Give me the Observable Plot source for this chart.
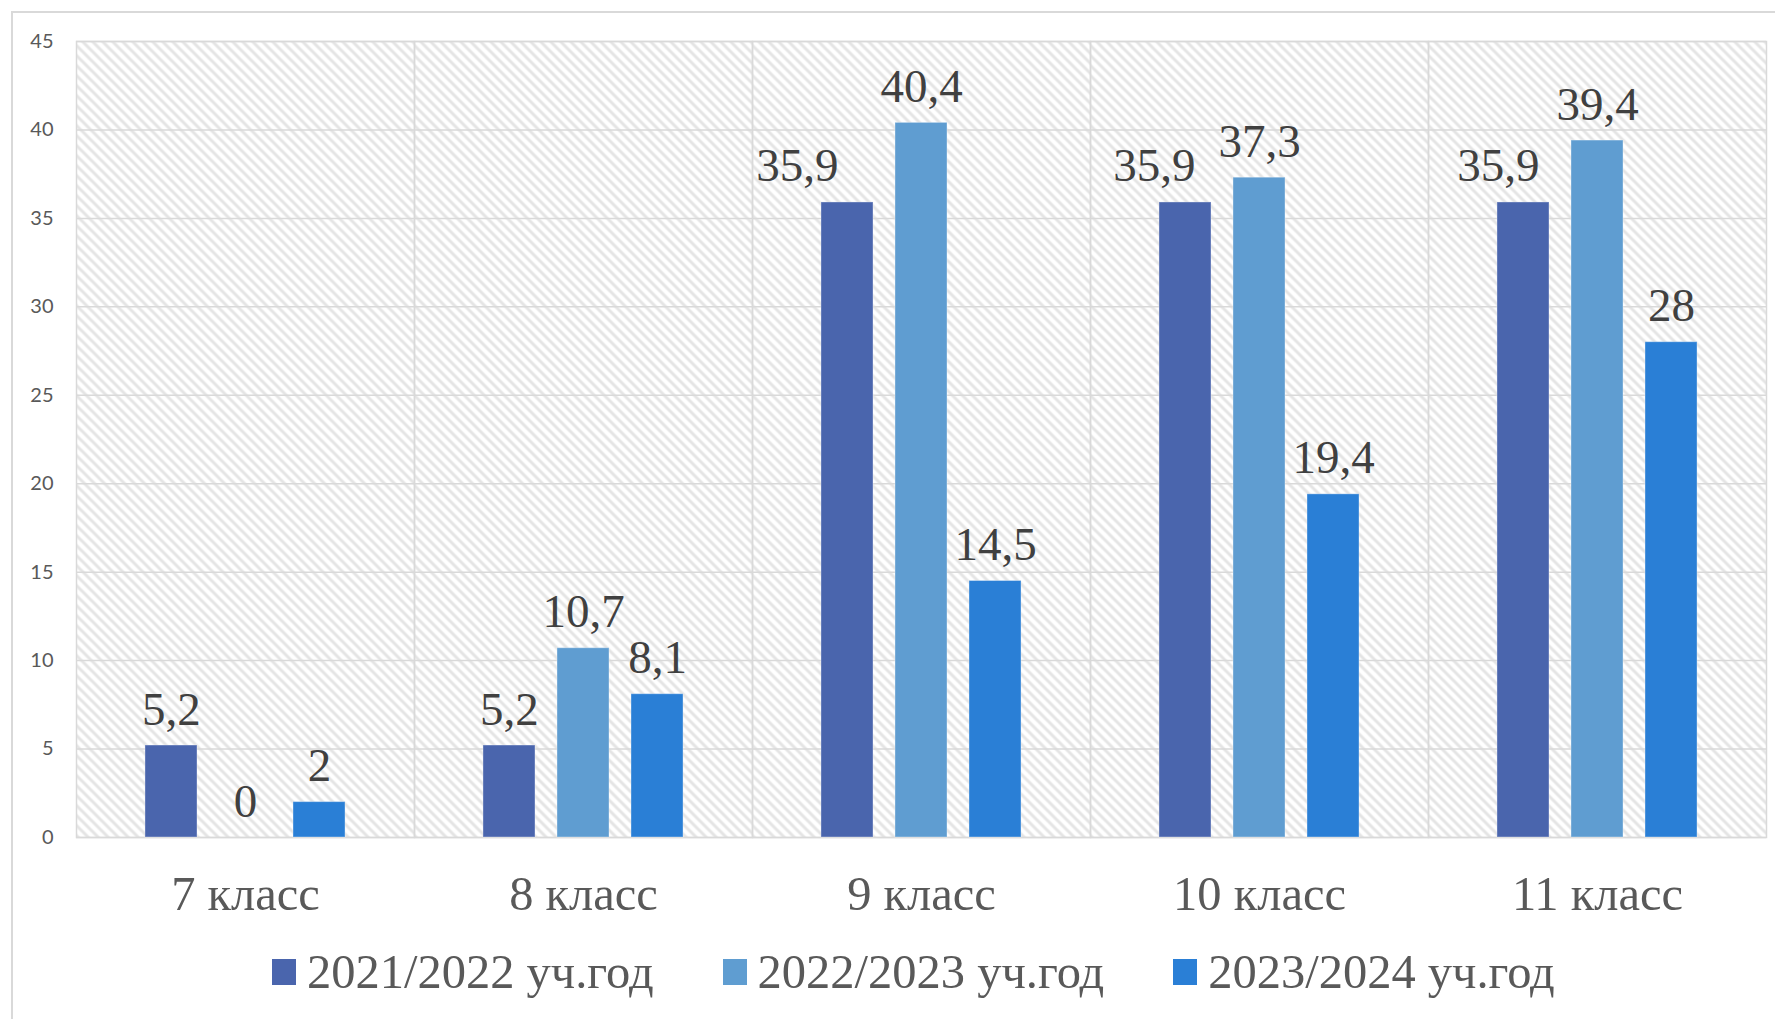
<!DOCTYPE html>
<html>
<head>
<meta charset="utf-8">
<script src="https://cdn.jsdelivr.net/npm/d3@7"></script>
<script src="https://cdn.jsdelivr.net/npm/@observablehq/plot@0.6"></script>
<style>
  html, body { margin: 0; padding: 0; background: #fff; overflow: hidden; }
  #wrap { position: relative; width: 1775px; height: 1019px; overflow: hidden; }
  #border { position: absolute; left: 11px; top: 11px; width: 1900px; height: 1100px; border: 2px solid #d9d9d9; box-sizing: border-box; pointer-events: none; }
  #chart { position: absolute; left: 0; top: 0; }
  #legend { position: absolute; left: 272px; top: 932px; height: 79px; display: flex; align-items: center; font-family: "Liberation Serif", "Times New Roman", serif; font-size: 48.5px; color: #595959; }
  .item { display: flex; align-items: center; margin-right: 69px; }
  .sw { width: 24px; height: 26px; margin-right: 11px; }
</style>
</head>
<body>
<div id="wrap">
  <div id="border"></div>
  <div id="chart"></div>
  <div id="legend"></div>
</div>
<script>
const categories = ["7 класс", "8 класс", "9 класс", "10 класс", "11 класс"];
const seriesNames = ["2021/2022 уч.год", "2022/2023 уч.год", "2023/2024 уч.год"];
const values2021 = [5.2, 5.2, 35.9, 35.9, 35.9];
const values2022 = [0, 10.7, 40.4, 37.3, 39.4];
const values2023 = [2, 8.1, 14.5, 19.4, 28];
const yTicks = [0, 5, 10, 15, 20, 25, 30, 35, 40, 45];
const colors = ["#4a65ad", "#5f9dd1", "#2a7fd6"];

const seriesValues = [values2021, values2022, values2023];
const data = [];
categories.forEach((c, i) => {
  seriesNames.forEach((s, j) => data.push({cat: c, series: s, value: seriesValues[j][i]}));
});
const fmt = v => String(v).replace(".", ",");

// label nudges for overlapping first-series labels (as in the reference)
const nudge = {"9 класс": -50, "10 класс": -31, "11 класс": -25};
const isNudged = d => d.series === seriesNames[0] && nudge[d.cat] !== undefined;

const labelStyle = {fontFamily: "Liberation Serif, Times New Roman, serif", fontSize: 47, fill: "#404040", lineAnchor: "bottom", dy: -21};

const marks = [
  Plot.frame({fill: "url(#hatch)", stroke: null}),
  Plot.gridY(yTicks, {stroke: "#d9d9d9", strokeOpacity: 1, strokeWidth: 1.5}),
  Plot.frame({stroke: "#d9d9d9", strokeWidth: 1.5}),
  Plot.barY(data, {fx: "cat", x: "series", y: "value", fill: "series", stroke: "#ffffff", strokeOpacity: 0.35, strokeWidth: 1}),
  Plot.text(data.filter(d => !isNudged(d)), {fx: "cat", x: "series", y: "value", text: d => fmt(d.value), ...labelStyle}),
  ...Object.keys(nudge).map(c =>
    Plot.text(data.filter(d => d.cat === c && d.series === seriesNames[0]), {fx: "cat", x: "series", y: "value", text: d => fmt(d.value), ...labelStyle, dx: nudge[c]})
  ),
  Plot.axisY(yTicks, {tickSize: 0, tickPadding: 23, fontSize: 20, fontFamily: "Lato, Liberation Sans, sans-serif", label: null}),
  Plot.axisFx({anchor: "bottom", tickSize: 0, tickPadding: 38, fontSize: 48.5, fontFamily: "Liberation Serif, Times New Roman, serif", label: null})
];

const svg = Plot.plot({
  width: 1775,
  height: 940,
  marginLeft: 75,
  marginRight: 9,
  marginTop: 41,
  marginBottom: 103,
  style: {color: "#595959", background: "transparent", overflow: "visible"},
  fx: {domain: categories, padding: 0, axis: null, label: null},
  x: {domain: seriesNames, paddingInner: 0.297, paddingOuter: 0.932, axis: null, round: false},
  y: {domain: [0, 45], axis: null},
  color: {domain: seriesNames, range: colors},
  marks
});

const defs = d3.select(svg).insert("defs", ":first-child");
const pat = defs.append("pattern").attr("id", "hatch").attr("patternUnits", "userSpaceOnUse").attr("width", 10).attr("height", 10);
pat.append("rect").attr("width", 10).attr("height", 10).attr("fill", "#ffffff");
pat.append("path").attr("d", "M-1,-1L11,11M-1,9L1,11M9,-1L11,1").attr("stroke", "#e4e4e4").attr("stroke-width", 3);

document.getElementById("chart").appendChild(svg);

const legend = document.getElementById("legend");
seriesNames.forEach((s, i) => {
  const item = document.createElement("div");
  item.className = "item";
  const sw = document.createElement("div");
  sw.className = "sw";
  sw.style.background = colors[i];
  const t = document.createElement("span");
  t.textContent = s;
  item.appendChild(sw);
  item.appendChild(t);
  legend.appendChild(item);
});
</script>
</body>
</html>
